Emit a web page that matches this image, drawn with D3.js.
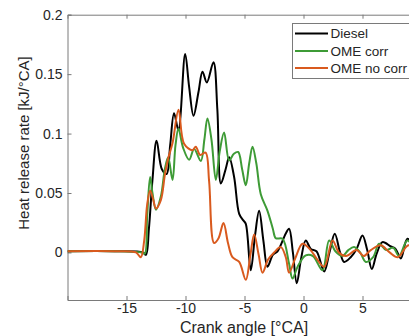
<!DOCTYPE html>
<html><head><meta charset="utf-8">
<script src="https://cdn.jsdelivr.net/npm/d3@7"></script>
<style>body{margin:0;background:#fff;overflow:hidden}svg{display:block}</style>
</head><body>
<script>
const seriesNames = ["Diesel", "OME corr", "OME no corr"];
const seriesColors = ["#000000", "#3e9b36", "#d95a1e"];

const dieselAngle = [-20,-16,-13.6,-13.35,-13.1,-12.8,-12.45,-12.0,-11.6,-11.3,-10.97,-10.6,-10.03,-9.7,-9.32,-8.9,-8.56,-8.19,-7.63,-7.3,-7.0,-6.6,-6.3,-5.88,-5.45,-5.1,-4.89,-4.47,-4.1,-3.76,-3.4,-3.05,-2.6,-2.2,-1.5,-1.22,-0.9,-0.57,-0.2,0.19,0.62,1.1,1.75,2.2,2.65,3.1,3.44,4.0,4.5,5.0,5.4,5.79,6.2,6.69,7.4,7.8,8.25,8.81,9.5,10];
const dieselHRR   = [0.001,0.001,0.0,-0.002,0.02,0.061,0.094,0.07,0.066,0.09,0.117,0.103,0.167,0.14,0.115,0.135,0.152,0.143,0.160,0.12,0.058,0.07,0.080,0.0635,0.0325,0.027,0.024,-0.015,0.015,0.035,0.01,-0.012,-0.002,0.001,0.016,0.020,0.0,-0.026,-0.005,0.010,0.003,0.001,-0.016,0.0,0.0157,0.0,-0.008,-0.004,0.003,0.0143,0.002,-0.014,-0.001,0.0087,0.005,0.003,-0.005,0.0115,0.005,0.0];

const omeCorrAngle = [-20,-16,-13.7,-13.45,-13.25,-13.0,-12.8,-12.5,-12.09,-11.75,-11.47,-11.1,-10.85,-10.6,-10.2,-9.69,-9.27,-8.7,-8.4,-8.14,-7.8,-7.43,-7.1,-6.73,-6.3,-5.9,-5.54,-5.2,-4.89,-4.6,-4.32,-4.0,-3.62,-3.05,-2.6,-2.35,-1.78,-1.22,-0.93,-0.5,0.19,0.8,1.61,2.17,2.7,3.3,3.8,4.29,4.8,5.28,5.9,6.41,7.0,7.6,8.1,8.8,9.5,10];
const omeCorrHRR   = [0.001,0.001,0.0,-0.001,0.03,0.0635,0.05,0.036,0.047,0.07,0.080,0.061,0.09,0.104,0.088,0.078,0.087,0.077,0.095,0.1127,0.095,0.061,0.085,0.101,0.0775,0.083,0.0845,0.07,0.0565,0.075,0.089,0.075,0.049,0.035,0.02,0.012,0.0115,-0.0095,-0.022,-0.012,-0.0025,-0.003,-0.015,0.010,0.001,-0.003,0.002,0.0045,0.0,-0.008,-0.004,0.0073,0.002,0.004,-0.003,0.010,0.002,0.0];

const omeNoCorrAngle = [-20,-16,-14.2,-13.79,-13.5,-13.25,-13.0,-12.75,-12.5,-12.09,-11.75,-11.47,-11.1,-10.59,-10.12,-9.41,-9.13,-8.76,-8.3,-8.0,-7.58,-7.2,-6.78,-6.4,-6.02,-5.45,-4.89,-4.5,-4.18,-3.8,-3.47,-3.0,-2.49,-1.92,-1.5,-1.22,-0.7,-0.08,0.6,1.1,1.75,2.46,3.0,3.6,4.5,5.1,5.7,6.55,7.3,8.0,8.9,10];
const omeNoCorrHRR   = [0.001,0.001,0.0,-0.004,0.01,0.04,0.052,0.045,0.037,0.044,0.065,0.079,0.092,0.12,0.0915,0.086,0.089,0.082,0.084,0.06,0.008,0.012,0.0247,0.008,-0.004,-0.008,-0.023,-0.002,0.015,-0.002,-0.017,-0.006,0.0,0.0045,-0.004,-0.017,-0.005,0.0073,0.002,-0.005,-0.012,0.010,0.0,-0.003,0.002,-0.003,0.002,0.006,0.0,-0.004,0.006,0.0];

const xTicks = [-15, -10, -5, 0, 5];
const yTicks = [0, 0.05, 0.1, 0.15, 0.2];
const xLabel = "Crank angle [°CA]";
const yLabel = "Heat release rate [kJ/°CA]";

const W = 409, H = 336;
const mLeft = 67.5, mTop = 14.7, mBottom = 300, mRight = 421.5;
const svg = d3.select("body").append("svg").attr("width", W).attr("height", H)
  .style("font-family", "'Liberation Sans', Arial, sans-serif");

const x = d3.scaleLinear().domain([-20, 10]).range([mLeft, mRight]);
const y = d3.scaleLinear().domain([-0.04, 0.2]).range([mBottom, mTop]);

const axisColor = "#7a7a7a", textColor = "#262626";

svg.append("clipPath").attr("id", "clip").append("rect")
  .attr("x", mLeft).attr("y", mTop).attr("width", mRight - mLeft).attr("height", mBottom - mTop);

const gx = svg.append("g").attr("transform", `translate(0,${mBottom})`)
  .call(d3.axisBottom(x).tickValues(xTicks).tickSize(-4).tickPadding(3).tickFormat(d3.format("d")));
const gxt = svg.append("g").attr("transform", `translate(0,${mTop})`)
  .call(d3.axisTop(x).tickValues(xTicks).tickSize(-4).tickFormat(""));
const gy = svg.append("g").attr("transform", `translate(${mLeft},0)`)
  .call(d3.axisLeft(y).tickValues(yTicks).tickSize(-4).tickPadding(5).tickFormat(d => d === 0 ? "0" : String(d)));
[gx, gxt, gy].forEach(g => {
  g.selectAll("path.domain").attr("stroke", axisColor).attr("stroke-width", 1);
  g.selectAll(".tick line").attr("stroke", axisColor);
  g.selectAll(".tick text").attr("fill", textColor).style("font-size", "14px")
    .style("font-family", "'Liberation Sans', Arial, sans-serif");
});
gx.selectAll(".tick text").text(d => d < 0 ? "-" + Math.abs(d) : d);

const seriesData = [
  dieselAngle.map((a, i) => [a, dieselHRR[i]]),
  omeCorrAngle.map((a, i) => [a, omeCorrHRR[i]]),
  omeNoCorrAngle.map((a, i) => [a, omeNoCorrHRR[i]])
];
const line = d3.line().x(d => x(d[0])).y(d => y(d[1])).curve(d3.curveCatmullRom.alpha(0.5));
const plot = svg.append("g").attr("clip-path", "url(#clip)");
seriesData.forEach((s, i) => {
  plot.append("path").datum(s).attr("d", line).attr("fill", "none")
    .attr("stroke", seriesColors[i]).attr("stroke-width", 2).attr("stroke-linejoin", "round");
});

svg.append("text").attr("x", 244).attr("y", 333).attr("text-anchor", "middle")
  .attr("fill", textColor).style("font-size", "16px").text(xLabel);
svg.append("text").attr("transform", "translate(29,143) rotate(-90)").attr("text-anchor", "middle")
  .attr("fill", textColor).style("font-size", "15px").text(yLabel);

const lg = svg.append("g");
lg.append("rect").attr("x", 292.5).attr("y", 23.5).attr("width", 130).attr("height", 55)
  .attr("fill", "#fff").attr("stroke", axisColor).attr("stroke-width", 1);
const legendY = [33.5, 51, 68];
seriesNames.forEach((n, i) => {
  lg.append("line").attr("x1", 295).attr("x2", 328).attr("y1", legendY[i]).attr("y2", legendY[i])
    .attr("stroke", seriesColors[i]).attr("stroke-width", 2);
  lg.append("text").attr("x", 330.5).attr("y", legendY[i]).attr("dy", "0.35em")
    .attr("fill", textColor).style("font-size", "13.5px").text(n);
});
</script>
</body></html>
